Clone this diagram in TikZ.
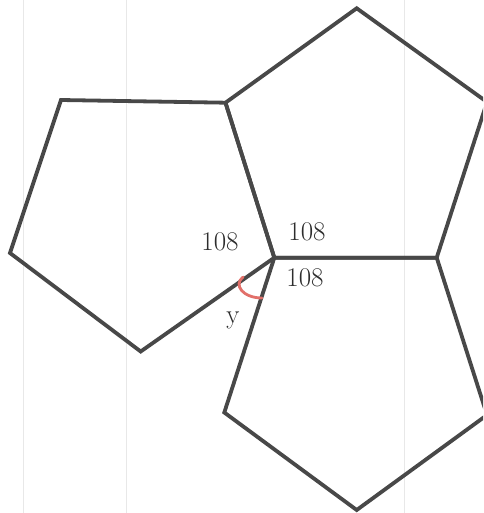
\documentclass[tikz,border=0pt]{standalone}
\usepackage{fontspec}
\definecolor{ink}{RGB}{72,72,72}
\definecolor{textink}{RGB}{45,45,45}
\definecolor{rule}{RGB}{232,232,232}
\definecolor{redink}{RGB}{226,112,106}
\begin{document}
\begin{tikzpicture}[x=1pt,y=-1pt,
  edge/.style={draw=ink,line width=3.8pt,line join=miter},
  paperline/.style={draw=rule,line width=1pt},
  lbl/.style={text=textink,font=\fontsize{27}{29}\selectfont,inner sep=0pt}]
\useasboundingbox (0,0) rectangle (483,513);
\clip (0,0) rectangle (483,513);
% lined paper
\draw[paperline] (23,0) -- (23,513);
\draw[paperline] (126,0) -- (126,513);
\draw[paperline] (404,0) -- (404,513);
% vertices
\coordinate (P) at (274.3,257.7);
\coordinate (A) at (225.5,102.7);
\coordinate (T) at (356.7,8.3);
\coordinate (R) at (487,102);
\coordinate (Q) at (436.7,257.7);
\coordinate (B) at (61,100);
\coordinate (C) at (10,253);
\coordinate (D) at (140.7,351.5);
\coordinate (S) at (487,415);
\coordinate (U) at (356.7,510);
\coordinate (E) at (224.3,412.5);
% pentagons
\draw[edge] (P) -- (A) -- (T) -- (R) -- (Q) -- cycle;
\draw[edge] (P) -- (A) -- (B) -- (C) -- (D) -- cycle;
\draw[edge] (P) -- (Q) -- (S) -- (U) -- (E) -- cycle;
% angle mark
\draw[draw=redink,line width=2.8pt,line cap=round] (243,277) .. controls (233,285) and (243,298) .. (262,298);
% labels
\node[lbl] (l1) at (220,242) {108};
\node[lbl] (l2) at (307,232) {108};
\node[lbl] (l3) at (305,278) {108};
\node[lbl] (ly) at (233,320) {y};
\end{tikzpicture}
\end{document}
